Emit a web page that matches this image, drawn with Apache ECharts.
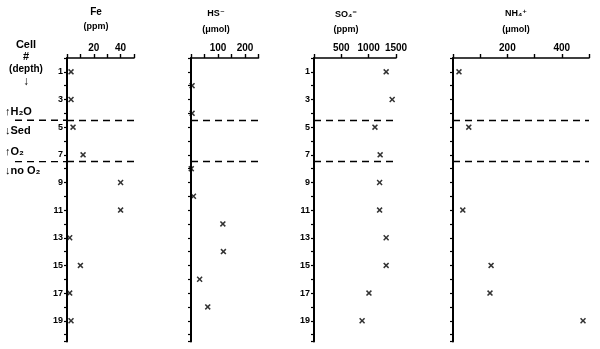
<!DOCTYPE html>
<html>
<head>
<meta charset="utf-8">
<script src="https://cdn.jsdelivr.net/npm/echarts@6/dist/echarts.min.js"></script>
<style>html,body{margin:0;padding:0;background:#fff}#c{width:600px;height:349px}</style>
</head>
<body>
<div id="c"></div>
<script>
// ---- data ----
const oddCells = [1, 3, 5, 7, 9, 11, 13, 15, 17, 19];
const feValues = [3, 3, 4.5, 12, 40, 40, 2, 10, 2, 3];
const hsCells = [2, 4, 8, 10, 12, 14, 16, 18];
const hsValues = [4, 4, 1, 9, 118, 120, 32, 62];
const so4Values = [1320, 1430, 1115, 1210, 1200, 1200, 1320, 1320, 1005, 880];
const nh4Cells = [1, 5, 11, 15, 17, 19];
const nh4Values = [22, 58, 36, 140, 136, 478];
const boundaries = [4.5, 7.5];
const feTicks = [20, 40];
const hsTicks = [100, 200];
const so4Ticks = [500, 1000, 1500];
const nh4Ticks = [200, 400];

const FONT = '"Liberation Sans", "DejaVu Sans", Arial, sans-serif';
const chart = echarts.init(document.getElementById('c'), null, {renderer: 'canvas'});
const xMark = 'path://M0,1.8L1.8,0L5,3.2L8.2,0L10,1.8L6.8,5L10,8.2L8.2,10L5,6.8L1.8,10L0,8.2L3.2,5Z';

const panels = [
  {left: 67, width: 67, max: 50, interval: 10, ticks: feTicks, yLabels: true},
  {left: 191, width: 67.5, max: 250, interval: 50, ticks: hsTicks, yLabels: false},
  {left: 314, width: 82, max: 1500, interval: 500, ticks: so4Ticks, yLabels: true},
  {left: 453, width: 136, max: 500, interval: 100, ticks: nh4Ticks, yLabels: false}
];
const seriesData = [
  feValues.map((v, i) => [v, oddCells[i]]),
  hsValues.map((v, i) => [v, hsCells[i]]),
  so4Values.map((v, i) => [v, oddCells[i]]),
  nh4Values.map((v, i) => [v, nh4Cells[i]])
];

const option = {
  animation: false,
  grid: panels.map(p => ({left: p.left, width: p.width, top: 58, height: 283.5, containLabel: false})),
  xAxis: panels.map((p, i) => ({
    gridIndex: i, type: 'value', position: 'top', min: 0, max: p.max, interval: p.interval,
    axisLine: {show: true, onZero: false, lineStyle: {color: '#000', width: 1.6}},
    axisTick: {show: true, length: 4, lineStyle: {color: '#000', width: 1.4}},
    splitLine: {show: false},
    axisLabel: {
      show: true, margin: 5, color: '#000', fontFamily: FONT, fontWeight: 'bold', fontSize: 10,
      formatter: v => p.ticks.indexOf(v) >= 0 ? String(v) : ''
    }
  })),
  yAxis: panels.map((p, i) => ({
    gridIndex: i, type: 'value', inverse: true, min: 0, max: 20.5, interval: 1,
    axisLine: {show: true, onZero: false, lineStyle: {color: '#000', width: 2}},
    axisTick: {show: true, length: 3, lineStyle: {color: '#000', width: 1.2}},
    splitLine: {show: false},
    axisLabel: {
      show: p.yLabels, margin: 4, color: '#000', fontFamily: FONT, fontWeight: 'bold', fontSize: 9,
      formatter: v => (v % 2 === 1 && v <= 19) ? String(v) : ''
    }
  })),
  series: seriesData.map((d, i) => ({
    type: 'scatter', xAxisIndex: i, yAxisIndex: i, data: d,
    symbol: xMark, symbolSize: 6, itemStyle: {color: '#000'},
    markLine: {
      silent: true, symbol: 'none', animation: false,
      label: {show: false},
      lineStyle: {color: '#000', type: [7, 5], width: 1.3},
      data: boundaries.map(b => ({yAxis: b}))
    }
  }))
};
chart.setOption(option);

// left-side extension of the Fe panel boundary lines
const ext = boundaries.map(b => {
  const y = chart.convertToPixel({yAxisIndex: 0}, b);
  return {type: 'line', shape: {x1: 15, y1: y, x2: 67, y2: y},
    style: {stroke: '#000', lineWidth: 1.3, lineDash: [7, 5]}, silent: true};
});

function txt(x, y, text, size, align) {
  return {type: 'text', x: x, y: y, silent: true,
    style: {text: text, fill: '#000', font: 'bold ' + size + 'px ' + FONT,
      textAlign: align || 'center', textVerticalAlign: 'middle'}};
}
const labels = [
  txt(96, 12, 'Fe', 10), txt(96, 27, '(ppm)', 9),
  txt(216, 14, 'HS\u207B', 9), txt(216, 30, '(\u03BCmol)', 9),
  txt(346, 15, 'SO\u2084\u207C', 9), txt(346, 30, '(ppm)', 9),
  txt(516, 14, 'NH\u2084\u207A', 9), txt(516, 30, '(\u03BCmol)', 9),
  txt(26, 45, 'Cell', 11), txt(26, 57, '#', 11), txt(26, 69, '(depth)', 10), txt(26, 82, '\u2193', 12),
  txt(5, 112, '\u2191H\u2082O', 11, 'left'), txt(5, 131, '\u2193Sed', 11, 'left'),
  txt(5, 152, '\u2191O\u2082', 11, 'left'), txt(5, 171, '\u2193no O\u2082', 11, 'left')
];
chart.setOption({graphic: ext.concat(labels)});
</script>
</body>
</html>
